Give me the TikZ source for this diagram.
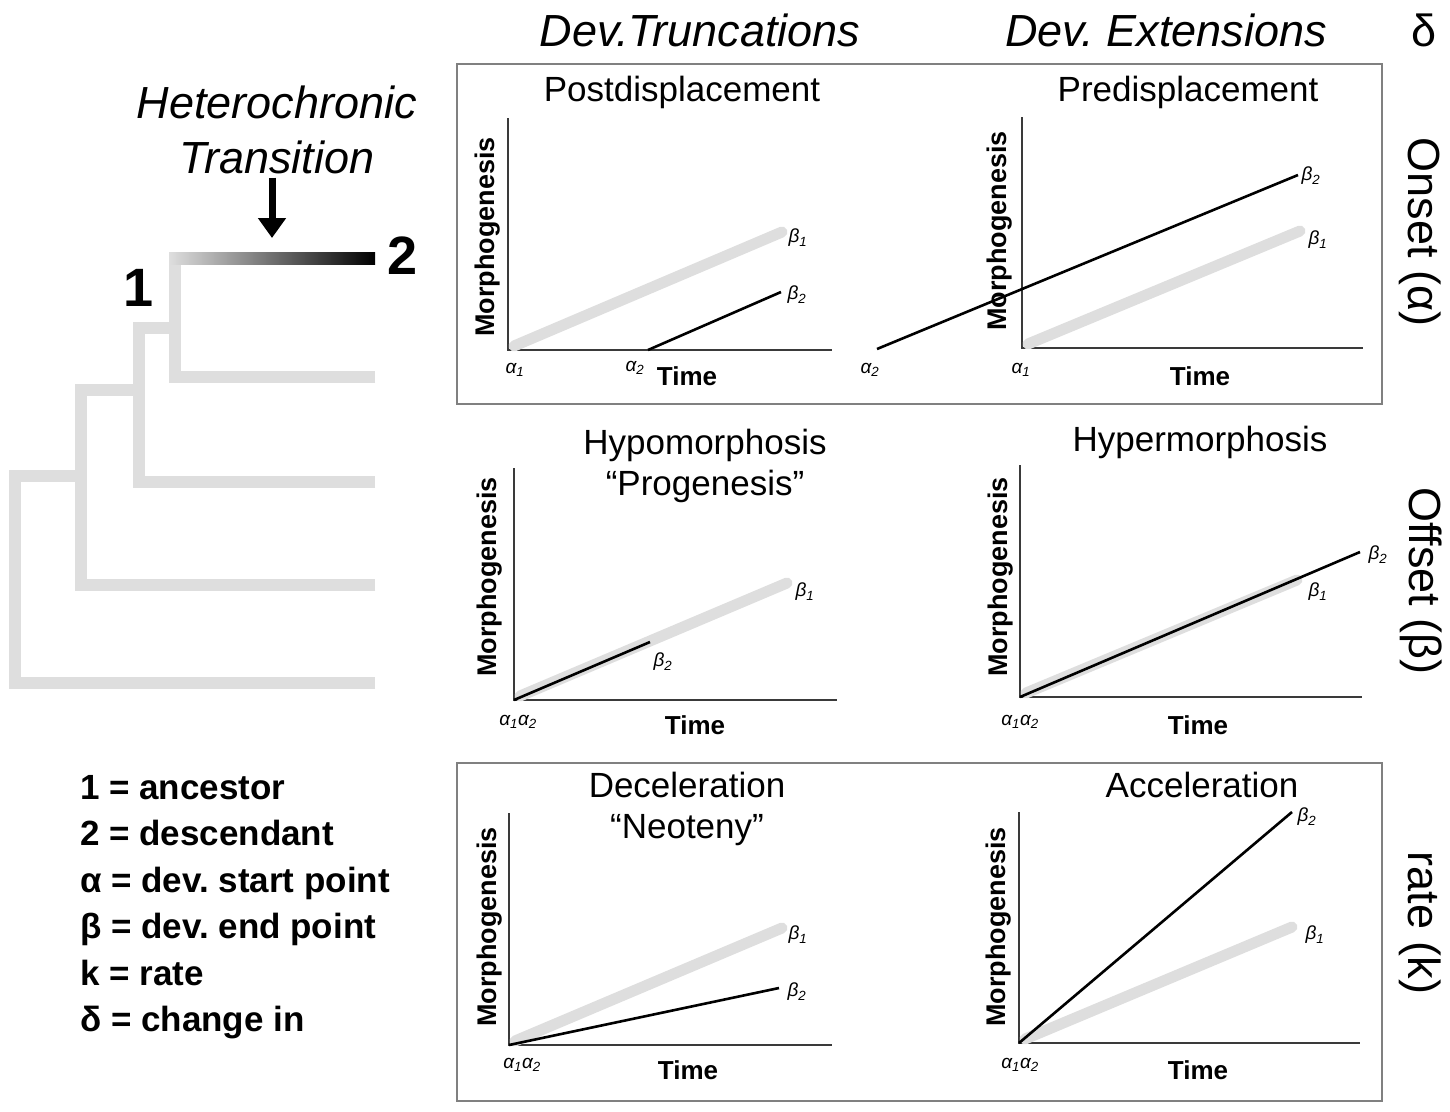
\documentclass[tikz,border=0pt]{standalone}
\usepackage{fontspec}
\setmainfont{Liberation Sans}
\usetikzlibrary{arrows.meta}
\definecolor{treegray}{HTML}{DEDEDE}
\definecolor{framegray}{HTML}{808080}
\definecolor{axisgray}{HTML}{3A3A3A}
\frenchspacing

\begin{document}
\begin{tikzpicture}[x=1pt, y=-1pt,
	branch/.style={line width=12pt, color=treegray},
	axis/.style={line width=2.5pt, color=axisgray},
	anc/.style={line width=11pt, color=treegray, line cap=round},
	desc/.style={line width=2.6pt, color=black},
	frame/.style={draw=framegray, line width=2pt},
	title/.style={font=\fontsize{35}{41}\selectfont, align=center},
	ylab/.style={font=\bfseries\fontsize{27}{30}\selectfont, rotate=90},
	xlab/.style={font=\bfseries\fontsize{26}{30}\selectfont},
	pt/.style={font=\itshape\fontsize{19}{22}\selectfont, inner sep=0pt},
	side/.style={font=\fontsize{45}{50}\selectfont, rotate=-90},
	head/.style={font=\itshape\fontsize{45}{55}\selectfont, align=center},
	leg/.style={font=\bfseries\fontsize{35}{40}\selectfont, anchor=base west, inner sep=0pt}
]
	\useasboundingbox (0,0) rectangle (1450,1111);

	% headers and row labels
	\node[head] (trunc) at (700,30) {Dev.Truncations};
	\node[head] (ext) at (1166,30) {Dev. Extensions};
	\node[font=\fontsize{45}{50}\selectfont] (delta) at (1424,30) {δ};
	\node[side] (onset) at (1420,232) {Onset (α)};
	\node[side] (offset) at (1421,581) {Offset (β)};
	\node[side] (rate) at (1420,923) {rate (k)};

	% frames
	\draw[frame] (457,64) rectangle (1382,404);
	\draw[frame] (457,763) rectangle (1382,1101);

	% tree
	\draw[branch] (375,683) -| (15,476) -- (81,476);
	\draw[branch] (375,585) -| (81,390) -- (139,390);
	\draw[branch] (375,482) -| (139,328) -- (175,328);
	\draw[branch] (375,377) -| (175,258);
	\shade[left color=treegray, right color=black] (169,252) rectangle (375,264);
	\node[font=\bfseries\fontsize{54}{60}\selectfont] (anc1) at (139,288) {1};
	\node[font=\bfseries\fontsize{54}{60}\selectfont] (desc2) at (403,256) {2};
	\node[head] (trans) at (277,130) {Heterochronic\\Transition};
	\coordinate (tip) at (272,238);
	\draw[-{Triangle[width=27pt,length=20pt]}, line width=7pt] (trans.south -| tip) -- (tip);

	% legend
	\foreach \y/\t [count=\i] in {799/1 = ancestor, 845/2 = descendant, 892/α = dev. start point,
		938/β = dev. end point, 985/k = rate, 1031/δ = change in}
		\node[leg] (leg\i) at (80,\y) {\t};

	% postdisplacement
	\node[title] (postd) at (682,92) {Postdisplacement};
	\node[ylab] (tl-y) at (488,237) {Morphogenesis};
	\node[xlab] (tl-x) at (687,376) {Time};
	\draw[axis] (508,118) -- (508,350) -- (832,350);
	\draw[anc] (514,346) -- (782,232);
	\draw[desc] (648,350) -- (781,292);
	\node[pt] (tl-a1) at (515,370) {α\textsubscript{1}};
	\node[pt] (tl-a2) at (635,368) {α\textsubscript{2}};
	\node[pt] (tl-b1) at (798,238) {β\textsubscript{1}};
	\node[pt] (tl-b2) at (797,295) {β\textsubscript{2}};

	% predisplacement
	\node[title] (pred) at (1188,92) {Predisplacement};
	\node[ylab] (tr-y) at (1000,231) {Morphogenesis};
	\node[xlab] (tr-x) at (1200,376) {Time};
	\draw[axis] (1022,117) -- (1022,348) -- (1363,348);
	\draw[anc] (1028,344) -- (1300,231);
	\draw[desc] (877,349) -- (1298,175);
	\node[pt] (tr-a2) at (870,370) {α\textsubscript{2}};
	\node[pt] (tr-a1) at (1021,370) {α\textsubscript{1}};
	\node[pt] (tr-b2) at (1311,176) {β\textsubscript{2}};
	\node[pt] (tr-b1) at (1318,240) {β\textsubscript{1}};

	% hypomorphosis
	\node[title] (hypo) at (705,466) {Hypomorphosis\\“Progenesis”};
	\node[ylab] (ml-y) at (490,577) {Morphogenesis};
	\node[xlab] (ml-x) at (695,725) {Time};
	\draw[axis] (514,468) -- (514,700) -- (837,700);
	\draw[anc] (520,696) -- (787,583);
	\draw[desc] (514,700) -- (650,642);
	\node[pt] (ml-a) at (518,722) {α\textsubscript{1}α\textsubscript{2}};
	\node[pt] (ml-b1) at (805,592) {β\textsubscript{1}};
	\node[pt] (ml-b2) at (663,662) {β\textsubscript{2}};

	% hypermorphosis
	\node[title] (hyper) at (1200,442) {Hypermorphosis};
	\node[ylab] (mr-y) at (1001,577) {Morphogenesis};
	\node[xlab] (mr-x) at (1198,725) {Time};
	\draw[axis] (1020,465) -- (1020,697) -- (1362,697);
	\draw[anc] (1026,693) -- (1297,580);
	\draw[desc] (1020,697) -- (1360,552);
	\node[pt] (mr-a) at (1020,722) {α\textsubscript{1}α\textsubscript{2}};
	\node[pt] (mr-b2) at (1378,555) {β\textsubscript{2}};
	\node[pt] (mr-b1) at (1318,592) {β\textsubscript{1}};

	% deceleration
	\node[title] (decel) at (687,809) {Deceleration\\“Neoteny”};
	\node[ylab] (bl-y) at (490,927) {Morphogenesis};
	\node[xlab] (bl-x) at (688,1070) {Time};
	\draw[axis] (509,813) -- (509,1045) -- (832,1045);
	\draw[anc] (515,1041) -- (782,928);
	\draw[desc] (509,1045) -- (779,988);
	\node[pt] (bl-a) at (522,1065) {α\textsubscript{1}α\textsubscript{2}};
	\node[pt] (bl-b1) at (798,935) {β\textsubscript{1}};
	\node[pt] (bl-b2) at (797,992) {β\textsubscript{2}};

	% acceleration
	\node[title] (accel) at (1202,785) {Acceleration};
	\node[ylab] (br-y) at (999,927) {Morphogenesis};
	\node[xlab] (br-x) at (1198,1070) {Time};
	\draw[axis] (1019,812) -- (1019,1043) -- (1360,1043);
	\draw[anc] (1025,1039) -- (1292,927);
	\draw[desc] (1019,1043) -- (1292,812);
	\node[pt] (br-a) at (1020,1065) {α\textsubscript{1}α\textsubscript{2}};
	\node[pt] (br-b2) at (1307,817) {β\textsubscript{2}};
	\node[pt] (br-b1) at (1315,935) {β\textsubscript{1}};
\end{tikzpicture}
\end{document}
